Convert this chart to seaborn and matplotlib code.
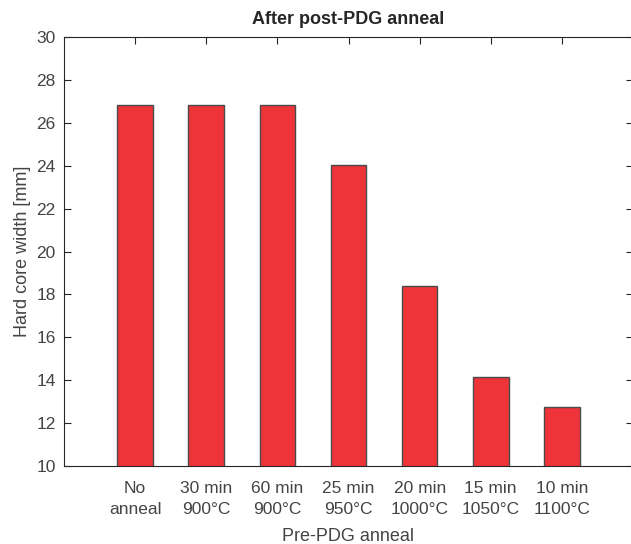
import matplotlib
matplotlib.use("Agg")
import matplotlib.pyplot as plt
import seaborn as sns
import pandas as pd

# Pre-PDG anneal conditions and resulting hard core width after the post-PDG anneal
conditions = ["No\nanneal", "30 min\n900°C", "60 min\n900°C", "25 min\n950°C",
              "20 min\n1000°C", "15 min\n1050°C", "10 min\n1100°C"]
core_width_mm = [26.85, 26.85, 26.85, 24.05, 18.4, 14.15, 12.75]
y_ticks = [10, 12, 14, 16, 18, 20, 22, 24, 26, 28, 30]

df = pd.DataFrame({"condition": conditions, "width": core_width_mm})

sns.set_style("white")
plt.rcParams["font.family"] = ["Liberation Sans", "DejaVu Sans"]
text_color = "#444444"

fig = plt.figure(figsize=(6.31, 5.44), dpi=100)
ax = fig.add_axes([64 / 631, 78 / 544, 569 / 631, 429 / 544])

sns.barplot(data=df, x="condition", y="width", order=conditions,
            color="#EE3439", saturation=1, width=0.5,
            edgecolor="#4a4a4a", linewidth=1.0, ax=ax)

ax.set_xlim(-1, 7)
ax.set_ylim(10, 30)
ax.set_yticks(y_ticks)
ax.set_yticklabels([str(t) for t in y_ticks])

for side in ["left", "right", "top", "bottom"]:
    ax.spines[side].set_visible(True)
    ax.spines[side].set_color("#262626")
    ax.spines[side].set_linewidth(0.8)

ax.tick_params(axis="both", direction="in", length=5, width=0.8,
               colors="#262626", labelcolor=text_color, labelsize=12.5,
               top=True, right=True, left=True, bottom=True)
ax.tick_params(axis="x", pad=11)
ax.tick_params(axis="y", pad=6)
for lbl in ax.get_xticklabels():
    lbl.set_linespacing(1.45)

ax.set_xlabel("Pre-PDG anneal", fontsize=13, color=text_color, labelpad=8)
ax.set_ylabel("Hard core width [mm]", fontsize=13, color=text_color, labelpad=4)
ax.set_title("After post-PDG anneal", fontsize=13, fontweight="bold",
             color="#262626", pad=9)

fig.savefig("out.png", dpi=100)
